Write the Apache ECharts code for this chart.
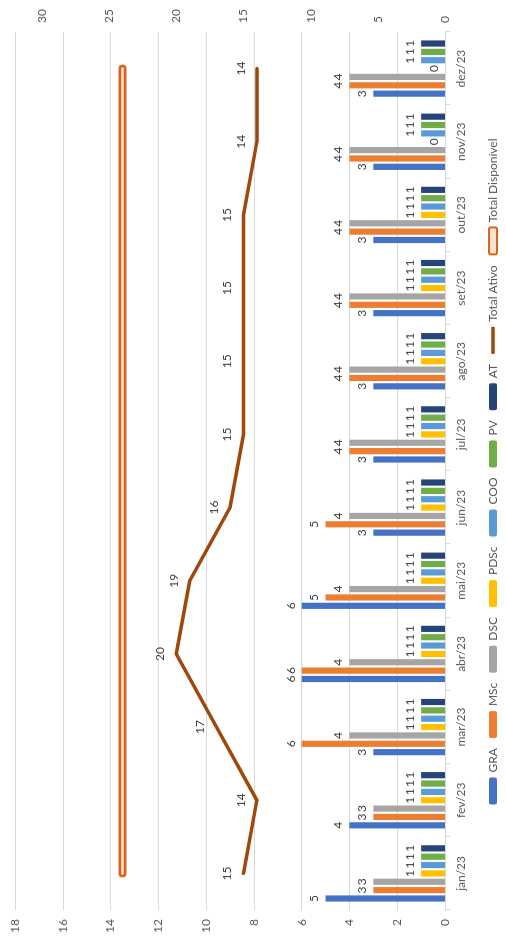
<!DOCTYPE html>
<html>
<head>
<meta charset="utf-8">
<script src="https://cdn.jsdelivr.net/npm/echarts@6/dist/echarts.min.js"></script>
<style>
  html, body { margin: 0; padding: 0; background: #fff; overflow: hidden; width: 506px; height: 943px; }
  #c { position: absolute; left: 0; top: 0; width: 943px; height: 506px;
       transform-origin: 0 0; transform: translate(0, 943px) rotate(-90deg); }
</style>
</head>
<body>
<div id="c"></div>
<script>
const months = ['jan/23','fev/23','mar/23','abr/23','mai/23','jun/23','jul/23','ago/23','set/23','out/23','nov/23','dez/23'];
const GRA  = [5,4,3,6,6,3,3,3,3,3,3,3];
const MSc  = [3,3,6,6,5,5,4,4,4,4,4,4];
const DSC  = [3,3,4,4,4,4,4,4,4,4,4,4];
const PDSc = [1,1,1,1,1,1,1,1,1,1,0,0];
const COO  = [1,1,1,1,1,1,1,1,1,1,1,1];
const PV   = [1,1,1,1,1,1,1,1,1,1,1,1];
const AT   = [1,1,1,1,1,1,1,1,1,1,1,1];
const totalAtivo = [15,14,17,20,19,16,15,15,15,15,14,14];
const totalDisponivel = [24,24,24,24,24,24,24,24,24,24,24,24];
const primaryTicks = { min: 0, max: 18, interval: 2 };
const secondaryTicks = { min: 0, max: 32, interval: 5 };

const FONT = 'Lato, "Liberation Sans", sans-serif';
const barSeries = [
  ['GRA', GRA, '#4472C4'],
  ['MSc', MSc, '#ED7D31'],
  ['DSC', DSC, '#A5A5A5'],
  ['PDSc', PDSc, '#FFC000'],
  ['COO', COO, '#5B9BD5'],
  ['PV', PV, '#70AD47'],
  ['AT', AT, '#264478']
].map(([name, data, color]) => ({
  name, type: 'bar', data, yAxisIndex: 0,
  barGap: '35%', barCategoryGap: '23%',
  itemStyle: { color },
  label: { show: true, position: 'top', distance: 5, color: '#404040', fontSize: 12, fontFamily: FONT },
  z: 2
}));

const chart = echarts.init(document.getElementById('c'));
chart.setOption({
  backgroundColor: '#fff',
  animation: false,
  textStyle: { fontFamily: FONT },
  grid: { left: 33, right: 32, top: 15, bottom: 61 },
  legend: {
    left: 'center', top: 482,
    itemWidth: 27, itemHeight: 8, itemGap: 10,
    textStyle: { color: '#595959', fontSize: 12, fontFamily: FONT },
    data: ['GRA','MSc','DSC','PDSc','COO','PV','AT',
      { name: 'Total Ativo', icon: 'path://M0,0L27,0L27,3.5L0,3.5Z',
        itemStyle: { color: '#9E480E', opacity: 1 } },
      { name: 'Total Disponível', icon: 'roundRect',
        itemStyle: { color: '#FBE3D1', borderColor: '#D8641E', borderWidth: 2 } }]
  },
  xAxis: {
    type: 'category', data: months,
    axisLine: { lineStyle: { color: '#D9D9D9' } },
    axisTick: { show: true, length: 5, lineStyle: { color: '#D9D9D9' } },
    axisLabel: { color: '#595959', fontSize: 12, margin: 10, interval: 0, fontFamily: FONT }
  },
  yAxis: [
    {
      type: 'value', min: primaryTicks.min, max: primaryTicks.max, interval: primaryTicks.interval,
      axisLine: { show: false }, axisTick: { show: false },
      splitLine: { lineStyle: { color: '#D9D9D9' } },
      axisLabel: { color: '#595959', fontSize: 12, margin: 9, fontFamily: FONT }
    },
    {
      type: 'value', min: secondaryTicks.min, max: secondaryTicks.max, interval: secondaryTicks.interval,
      axisLine: { show: false }, axisTick: { show: false }, splitLine: { show: false },
      axisLabel: { color: '#595959', fontSize: 12, margin: 9, fontFamily: FONT,
        formatter: v => (v % 5 === 0 ? String(v) : '') }
    }
  ],
  series: barSeries.concat([
    {
      name: 'Total Ativo', type: 'line', data: totalAtivo, yAxisIndex: 1,
      symbol: 'circle', symbolSize: 2, showSymbol: true,
      lineStyle: { color: '#9E480E', width: 3.5, cap: 'round', join: 'round' },
      itemStyle: { color: '#9E480E' },
      label: { show: true, position: 'top', distance: 9, color: '#404040', fontSize: 12, fontFamily: FONT },
      labelLayout: { hideOverlap: false },
      z: 5
    },
    {
      name: 'Total Disponível', type: 'line', data: totalDisponivel, yAxisIndex: 1,
      symbol: 'none', lineStyle: { color: '#D8641E', width: 8, cap: 'round' },
      itemStyle: { color: '#D8641E' }, z: 4
    },
    {
      name: 'Total Disponível (interior)', type: 'line', data: totalDisponivel, yAxisIndex: 1,
      symbol: 'none', lineStyle: { color: '#FBE3D1', width: 2.5, cap: 'round' },
      itemStyle: { color: '#FBE3D1' }, z: 4.5, silent: true
    }
  ])
});
</script>
</body>
</html>
